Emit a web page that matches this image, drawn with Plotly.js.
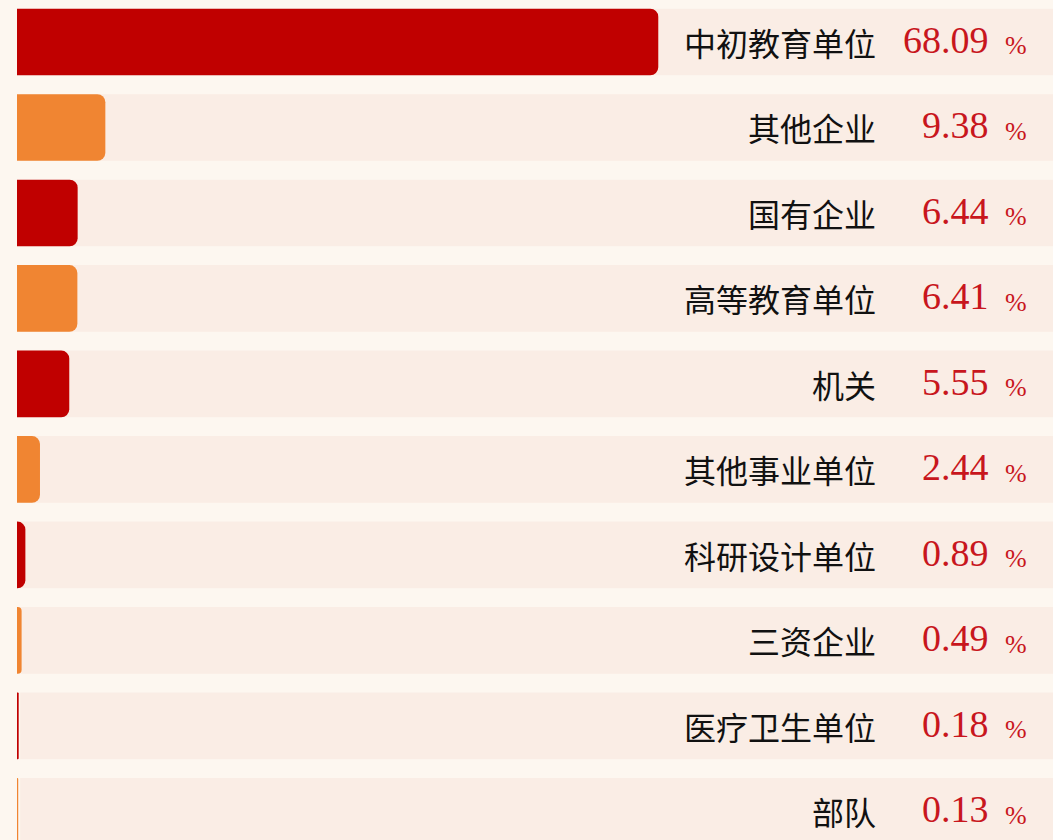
<!DOCTYPE html>
<html>
<head>
<meta charset="utf-8">
<script src="https://cdn.plot.ly/plotly-3.0.1.min.js"></script>
<style>
  html, body { margin: 0; padding: 0; background: #FDF7F0; }
  #chart { width: 1053px; height: 840px; }
</style>
</head>
<body>
<div id="chart"></div>
<script>
// ---- data ----
const categories = ["中初教育单位", "其他企业", "国有企业", "高等教育单位", "机关",
                    "其他事业单位", "科研设计单位", "三资企业", "医疗卫生单位", "部队"];
const percentages = [68.09, 9.38, 6.44, 6.41, 5.55, 2.44, 0.89, 0.49, 0.18, 0.13];
const valueLabels = ["68.09", "9.38", "6.44", "6.41", "5.55", "2.44", "0.89", "0.49", "0.18", "0.13"];
const unitLabel = "%";

// ---- styles ----
const darkRed = "#C00000";
const orange = "#F08532";
const barColors = categories.map((c, i) => (i % 2 === 0 ? darkRed : orange));

const trace = {
  type: "bar",
  orientation: "h",
  y: categories,
  x: percentages,
  marker: { color: barColors, cornerradius: 8, line: { width: 0 } },
  hoverinfo: "skip",
  showlegend: false
};

const shapes = categories.map((c, i) => ({
  type: "rect",
  layer: "below",
  xref: "paper", yref: "y",
  x0: 0.003, x1: 1.02,
  y0: i - 0.39, y1: i + 0.39,
  fillcolor: "#FAEDE5",
  line: { width: 0 }
}));

const annotations = [];
categories.forEach((c, i) => {
  annotations.push({
    xref: "paper", yref: "y", x: 0.831, y: c,
    xanchor: "right", yanchor: "middle",
    text: c, showarrow: false,
    font: { family: "Noto Sans CJK SC", size: 32, color: "#111111" }
  });
  annotations.push({
    xref: "paper", yref: "y", x: 0.940, y: c,
    xanchor: "right", yanchor: "middle", yshift: 2,
    text: valueLabels[i], showarrow: false,
    font: { family: "Liberation Serif", size: 38, color: "#C8161D" }
  });
  annotations.push({
    xref: "paper", yref: "y", x: 0.964, y: c,
    xanchor: "center", yanchor: "middle", yshift: -4,
    text: unitLabel, showarrow: false,
    font: { family: "Liberation Serif", size: 26, color: "#C8161D" }
  });
});

const layout = {
  width: 1053, height: 840,
  margin: { l: 17, r: 0, t: 0, b: 0 },
  paper_bgcolor: "#FDF7F0",
  plot_bgcolor: "rgba(0,0,0,0)",
  bargap: 0.22,
  xaxis: { range: [0, 110], visible: false, fixedrange: true },
  yaxis: {
    type: "category",
    categoryorder: "array", categoryarray: categories,
    range: [9.334, -0.491],
    visible: false, fixedrange: true
  },
  shapes: shapes,
  annotations: annotations
};

Plotly.newPlot("chart", [trace], layout, { displayModeBar: false, staticPlot: true });
</script>
</body>
</html>
